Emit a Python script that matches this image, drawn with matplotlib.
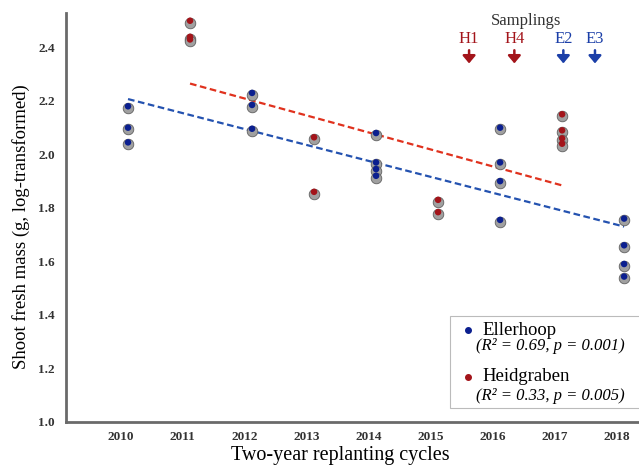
import matplotlib.pyplot as plt
import matplotlib.transforms as mtransforms
from matplotlib.patches import Rectangle

# --- Data ---
ell_years = [2010, 2010, 2010, 2012, 2012, 2012, 2014, 2014, 2014, 2014,
             2016, 2016, 2016, 2016, 2018, 2018, 2018, 2018]
ell_mass = [2.18, 2.10, 2.045, 2.23, 2.185, 2.096, 2.08, 1.97, 1.945, 1.92,
            2.10, 1.97, 1.90, 1.755, 1.76, 1.66, 1.59, 1.543]

hei_years = [2011, 2011, 2011, 2013, 2013, 2015, 2015, 2017, 2017, 2017, 2017]
hei_mass = [2.50, 2.44, 2.43, 2.064, 1.86, 1.83, 1.784, 2.15, 2.09, 2.06, 2.04]

# trend lines (endpoints)
ell_fit_x = [2010, 2018]
ell_fit_y = [2.207, 1.73]
hei_fit_x = [2011, 2017]
hei_fit_y = [2.265, 1.884]

year_ticks = [2010, 2011, 2012, 2013, 2014, 2015, 2016, 2017, 2018]
y_ticks = [1.0, 1.2, 1.4, 1.6, 1.8, 2.0, 2.2, 2.4]

samplings = ["H1", "H4", "E2", "E3"]
sampling_x = [2015.5, 2016.23, 2017.02, 2017.53]

BLUE = "#0b1f8f"
RED = "#a3141a"
BLUE_TXT = "#1b3fa8"
RED_TXT = "#a3141a"
sampling_col = [RED_TXT, RED_TXT, BLUE_TXT, BLUE_TXT]

plt.rcParams["font.family"] = ["Liberation Serif", "DejaVu Serif"]

fig = plt.figure(figsize=(6.39, 4.66), dpi=100)
ax = fig.add_axes([0.1033, 0.095, 0.8967, 0.8777])

# schatten + punkte
shadow = mtransforms.offset_copy(ax.transData, fig=fig, x=0, y=-1.3, units="points")
for xs, ys, col in [(ell_years, ell_mass, BLUE), (hei_years, hei_mass, RED)]:
    ax.scatter(xs, ys, s=58, color="#a0a0a0", edgecolor="#606060", linewidth=0.6,
               transform=shadow, zorder=3)
    ax.scatter(xs, ys, s=22, color=col, edgecolor="none", zorder=4)

ax.plot(ell_fit_x, ell_fit_y, ls=(0, (3, 1.6)), color="#2452b0", lw=1.6, zorder=2)
ax.plot(hei_fit_x, hei_fit_y, ls=(0, (3, 1.6)), color="#e0321e", lw=1.6, zorder=2)

ax.set_xlim(2009.0, 2018.24)
ax.set_ylim(1.0, 2.53)

ax.set_xticks([y - 0.12 for y in year_ticks])
ax.set_xticklabels([str(y) for y in year_ticks], fontweight="bold", fontsize=9.5, color="#333333")
ax.set_yticks(y_ticks)
ax.set_yticklabels([f"{v:.1f}" for v in y_ticks], fontweight="bold", fontsize=9.5, color="#333333")
ax.tick_params(axis="y", length=0, pad=8)
ax.tick_params(axis="x", length=0, pad=7)

for side in ["top", "right"]:
    ax.spines[side].set_visible(False)
for side in ["left", "bottom"]:
    ax.spines[side].set_color("#6a6a6a")
    ax.spines[side].set_linewidth(2)

ax.set_ylabel("Shoot fresh mass (g, log-transformed)", fontsize=13.5)
ax.yaxis.set_label_coords(-0.063, 0.478)
ax.set_xlabel("Two-year replanting cycles", fontsize=14.5)
ax.xaxis.set_label_coords(0.478, -0.06)

# Samplings
ax.text(2016.42, 2.50, "Samplings", ha="center", va="center", fontsize=12, color="#333333")
for lab, sx, c in zip(samplings, sampling_x, sampling_col):
    ax.text(sx, 2.43, lab, ha="center", va="center", fontsize=12, color=c)
    ax.annotate("", xy=(sx, 2.33), xytext=(sx, 2.40),
                arrowprops=dict(arrowstyle="-|>,head_width=0.38,head_length=0.45",
                                color=c, lw=1.8))

# Legende
ax.add_patch(Rectangle((0.671, 0.0335), 0.335, 0.2245, transform=ax.transAxes,
                       facecolor="white", edgecolor="#bbbbbb", lw=0.8, zorder=5,
                       clip_on=False))
ax.scatter([0.7016], [0.224], s=16, color=BLUE, transform=ax.transAxes, zorder=6)
ax.text(0.727, 0.224, "Ellerhoop", transform=ax.transAxes, va="center", fontsize=13.5, zorder=6)
ax.text(0.715, 0.184, "(R² = 0.69, p = 0.001)", transform=ax.transAxes, va="center",
        fontsize=12, style="italic", zorder=6)
ax.scatter([0.7016], [0.11], s=16, color=RED, transform=ax.transAxes, zorder=6)
ax.text(0.727, 0.11, "Heidgraben", transform=ax.transAxes, va="center", fontsize=13.5, zorder=6)
ax.text(0.715, 0.064, "(R² = 0.33, p = 0.005)", transform=ax.transAxes, va="center",
        fontsize=12, style="italic", zorder=6)

fig.savefig("out.png", dpi=100)
